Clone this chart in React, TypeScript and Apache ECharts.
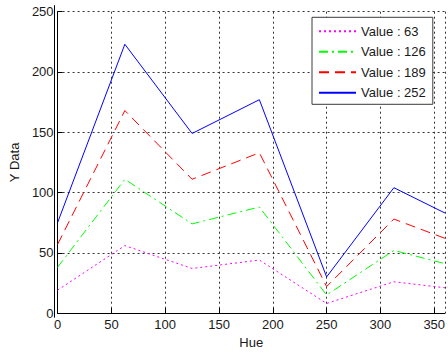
import React, { useEffect, useRef } from "react";
import * as echarts from "echarts";

const hue = [0, 62.5, 125, 187.5, 250, 312.5, 360];
const seriesNames = ["Value : 63", "Value : 126", "Value : 189", "Value : 252"];
const v63 = [19, 56, 37, 44, 8, 26, 21];
const v126 = [38, 111, 74, 88, 15, 52, 41];
const v189 = [57, 168, 111, 133, 22, 78, 62];
const v252 = [75, 223, 149, 177, 30, 104, 83];
const xTicks = [0, 50, 100, 150, 200, 250, 300, 350];
const yTicks = [0, 50, 100, 150, 200, 250];

const FONT = "'Liberation Sans', Arial, sans-serif";

export default function App() {
  const ref = useRef<HTMLDivElement>(null);
  useEffect(() => {
    document.body.style.margin = "0";
    const chart = echarts.init(ref.current!, null, { renderer: "svg" });
    const pair = (ys: number[]) => hue.map((h, i) => [h, ys[i]]);
    const colors = ["#ff00ff", "#00ff00", "#ff0000", "#0000ff"];
    const dashes: any[] = [[2, 3], [9, 4, 2, 4], [10, 6], "solid"];
    const vals = [v63, v126, v189, v252];
    const gridL = 54.6;
    const gridW = 393.8;
    chart.setOption({
      animation: false,
      backgroundColor: "#ffffff",
      textStyle: { fontFamily: FONT },
      grid: [
        { left: gridL, top: 5.6, width: gridW, height: 311.7 },
        { left: gridL, top: 11.7, width: gridW, height: 305.6 },
      ],
      xAxis: [
        { gridIndex: 0, type: "value", min: 0, max: 360, show: false },
        {
          gridIndex: 1,
          type: "value",
          min: 0,
          max: 360,
          interval: 50,
          name: "Hue",
          nameLocation: "middle",
          nameGap: 21,
          nameTextStyle: { fontFamily: FONT, fontSize: 13, color: "#1a1a1a" },
          axisLine: { show: true, onZero: false, lineStyle: { color: "#000", width: 1 } },
          axisTick: { show: true, inside: true, length: 5, lineStyle: { color: "#000" } },
          axisLabel: {
            fontFamily: FONT,
            fontSize: 13,
            color: "#1a1a1a",
            margin: 5,
            showMaxLabel: false,
            formatter: (v: number) => (xTicks.includes(v) ? String(v) : ""),
          },
          splitLine: { show: true, lineStyle: { color: "#333", type: [2, 3], width: 1 } },
        },
      ],
      yAxis: [
        {
          gridIndex: 0,
          type: "value",
          min: 0,
          max: 255,
          axisLine: { show: true, onZero: false, lineStyle: { color: "#000", width: 1 } },
          axisTick: { show: false },
          axisLabel: { show: false },
          splitLine: { show: false },
        },
        {
          gridIndex: 1,
          type: "value",
          min: 0,
          max: 250,
          interval: 50,
          name: "Y Data",
          nameLocation: "middle",
          nameGap: 32,
          nameTextStyle: { fontFamily: FONT, fontSize: 13, color: "#1a1a1a" },
          axisLine: { show: true, onZero: false, lineStyle: { color: "#000", width: 1 } },
          axisTick: { show: true, inside: true, length: 5, lineStyle: { color: "#000" } },
          axisLabel: {
            fontFamily: FONT,
            fontSize: 13,
            color: "#1a1a1a",
            margin: 4,
            formatter: (v: number) => (yTicks.includes(v) ? String(v) : ""),
          },
          splitLine: { show: true, lineStyle: { color: "#333", type: [2, 3], width: 1 } },
        },
      ],
      legend: {
        left: 312,
        top: 17.3,
        orient: "vertical",
        itemWidth: 37,
        itemHeight: 10,
        itemGap: 7.5,
        padding: [7.5, 7, 5, 6],
        backgroundColor: "#ffffff",
        borderColor: "#3a3a3a",
        borderWidth: 1,
        borderRadius: 0,
        itemStyle: { opacity: 0, borderWidth: 0 },
        textStyle: { fontFamily: FONT, fontSize: 13, color: "#1a1a1a" },
        data: seriesNames,
      },
      series: vals.map((ys, i) => ({
        name: seriesNames[i],
        type: "line",
        xAxisIndex: 1,
        yAxisIndex: 1,
        data: pair(ys),
        symbol: "none",
        showSymbol: false,
        lineStyle: { color: colors[i], width: 1, type: dashes[i] },
        itemStyle: { color: colors[i] },
        z: 3 + i,
      })),
    });
    return () => chart.dispose();
  }, []);
  return <div ref={ref} style={{ width: 448, height: 354 }} />;
}
